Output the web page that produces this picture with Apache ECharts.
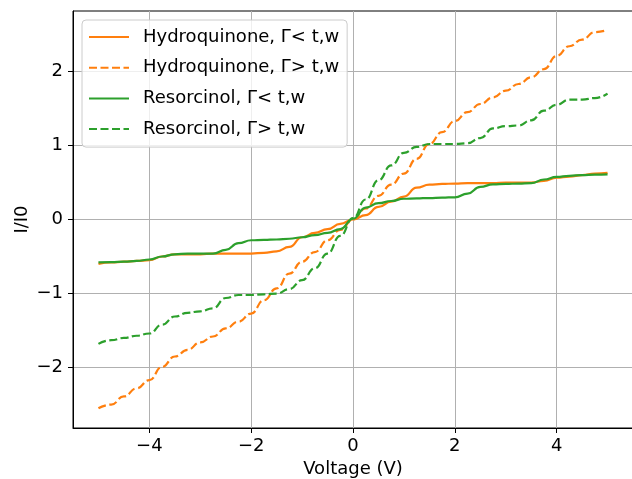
<!DOCTYPE html>
<html>
<head>
<meta charset="utf-8">
<script src="https://cdn.jsdelivr.net/npm/echarts@6/dist/echarts.min.js"></script>
<style>html,body{margin:0;padding:0;background:#fff}#c{width:632px;height:479px}</style>
</head>
<body>
<div id="c"></div>
<script>
const voltage = [-5,-4.75,-4.5,-4.25,-4,-3.75,-3.5,-3.25,-3,-2.75,-2.5,-2.25,-2,-1.75,-1.5,-1.25,-1,-0.75,-0.5,-0.25,0,
  0.25,0.5,0.75,1,1.25,1.5,1.75,2,2.25,2.5,2.75,3,3.25,3.5,3.75,4,4.25,4.5,4.75,5];
const hqLow = [-0.60,-0.58,-0.57,-0.56,-0.55,-0.50,-0.47,-0.47,-0.47,-0.46,-0.46,-0.46,-0.46,-0.45,-0.43,-0.37,-0.24,-0.18,-0.13,-0.06,0,
  0.06,0.17,0.24,0.31,0.43,0.47,0.48,0.485,0.49,0.49,0.49,0.50,0.50,0.50,0.52,0.565,0.58,0.60,0.62,0.63];
const hqHigh = [-2.55,-2.50,-2.39,-2.28,-2.17,-1.99,-1.85,-1.76,-1.66,-1.58,-1.47,-1.38,-1.27,-1.09,-0.93,-0.73,-0.57,-0.44,-0.28,-0.14,0,
  0.15,0.32,0.47,0.62,0.82,1.02,1.18,1.33,1.45,1.56,1.65,1.74,1.83,1.92,2.03,2.21,2.34,2.43,2.53,2.56];
const rsLow = [-0.58,-0.575,-0.57,-0.56,-0.54,-0.50,-0.47,-0.46,-0.46,-0.46,-0.41,-0.32,-0.28,-0.275,-0.27,-0.26,-0.24,-0.21,-0.18,-0.13,0.01,
  0.16,0.22,0.25,0.28,0.285,0.29,0.295,0.30,0.35,0.44,0.475,0.48,0.485,0.49,0.54,0.575,0.59,0.60,0.605,0.61];
const rsHigh = [-1.68,-1.63,-1.60,-1.57,-1.54,-1.42,-1.31,-1.26,-1.24,-1.20,-1.06,-1.02,-1.02,-1.01,-1.00,-0.94,-0.82,-0.66,-0.46,-0.22,0.02,
  0.27,0.53,0.73,0.90,0.98,1.02,1.02,1.02,1.03,1.10,1.23,1.26,1.27,1.34,1.47,1.55,1.62,1.62,1.64,1.70];
const xTicks = [-4,-2,0,2,4];
const yTicks = [-2,-1,0,1,2];
const seriesNames = ['Hydroquinone, Γ< t,w','Hydroquinone, Γ> t,w','Resorcinol, Γ< t,w','Resorcinol, Γ> t,w'];

const ORANGE = '#ff7f0e', GREEN = '#2ca02c';
const FONT = 'DejaVu Sans';
const FS = 18;
const fmt = v => (v < 0 ? '\u2212' + Math.abs(v) : String(v));
const pair = ys => voltage.map((x, i) => [x, ys[i]]);
const mk = (name, ys, color, dashed) => ({
  name, type: 'line', data: pair(ys), symbol: 'none', smooth: 0.5, smoothMonotone: 'x',
  lineStyle: { color, width: 2.2, type: dashed ? [8, 3.5] : 'solid' },
  itemStyle: { color }
});

const chart = echarts.init(document.getElementById('c'), null, { renderer: 'canvas' });
chart.setOption({
  animation: false,
  backgroundColor: '#fff',
  grid: { left: 73, right: -1, top: 11, bottom: 51, show: true, borderColor: '#000', borderWidth: 1,
          backgroundColor: 'transparent', containLabel: false, outerBoundsMode: 'none' },
  xAxis: {
    type: 'value', min: -5.5, max: 5.5,
    name: 'Voltage (V)', nameLocation: 'middle', nameGap: 32, nameMoveOverlap: false,
    nameTextStyle: { fontFamily: FONT, fontSize: FS, color: '#000' },
    axisLine: { show: true, onZero: false, lineStyle: { color: '#000', width: 1 } },
    axisTick: { show: true, length: 5, customValues: xTicks, lineStyle: { color: '#000' } },
    axisLabel: { customValues: xTicks, formatter: fmt, fontFamily: FONT, fontSize: FS, color: '#000', margin: 9 },
    splitLine: { show: true, lineStyle: { color: '#b0b0b0', width: 1 } }
  },
  yAxis: {
    type: 'value', min: -2.816, max: 2.816,
    name: 'I/I0', nameLocation: 'middle', nameGap: 42, nameRotate: 90, nameMoveOverlap: false,
    nameTextStyle: { fontFamily: FONT, fontSize: FS, color: '#000' },
    axisLine: { show: true, onZero: false, lineStyle: { color: '#000', width: 1 } },
    axisTick: { show: true, length: 5, customValues: yTicks, lineStyle: { color: '#000' } },
    axisLabel: { customValues: yTicks, formatter: fmt, fontFamily: FONT, fontSize: FS, color: '#000', margin: 10 },
    splitLine: { show: true, lineStyle: { color: '#b0b0b0', width: 1 } }
  },
  legend: {
    orient: 'vertical', left: 82, top: 20,
    data: seriesNames,
    itemWidth: 40, itemHeight: 18, itemGap: 12.7,
    padding: [8, 8, 9, 6],
    itemStyle: { opacity: 0 },
    backgroundColor: 'rgba(255,255,255,0.8)', borderColor: '#cccccc', borderWidth: 1, borderRadius: 4,
    textStyle: { fontFamily: FONT, fontSize: FS, color: '#000', lineHeight: 18, padding: [0, 0, 0, 9] }
  },
  series: [
    mk(seriesNames[0], hqLow, ORANGE, false),
    mk(seriesNames[1], hqHigh, ORANGE, true),
    mk(seriesNames[2], rsLow, GREEN, false),
    mk(seriesNames[3], rsHigh, GREEN, true)
  ]
});
</script>
</body>
</html>
